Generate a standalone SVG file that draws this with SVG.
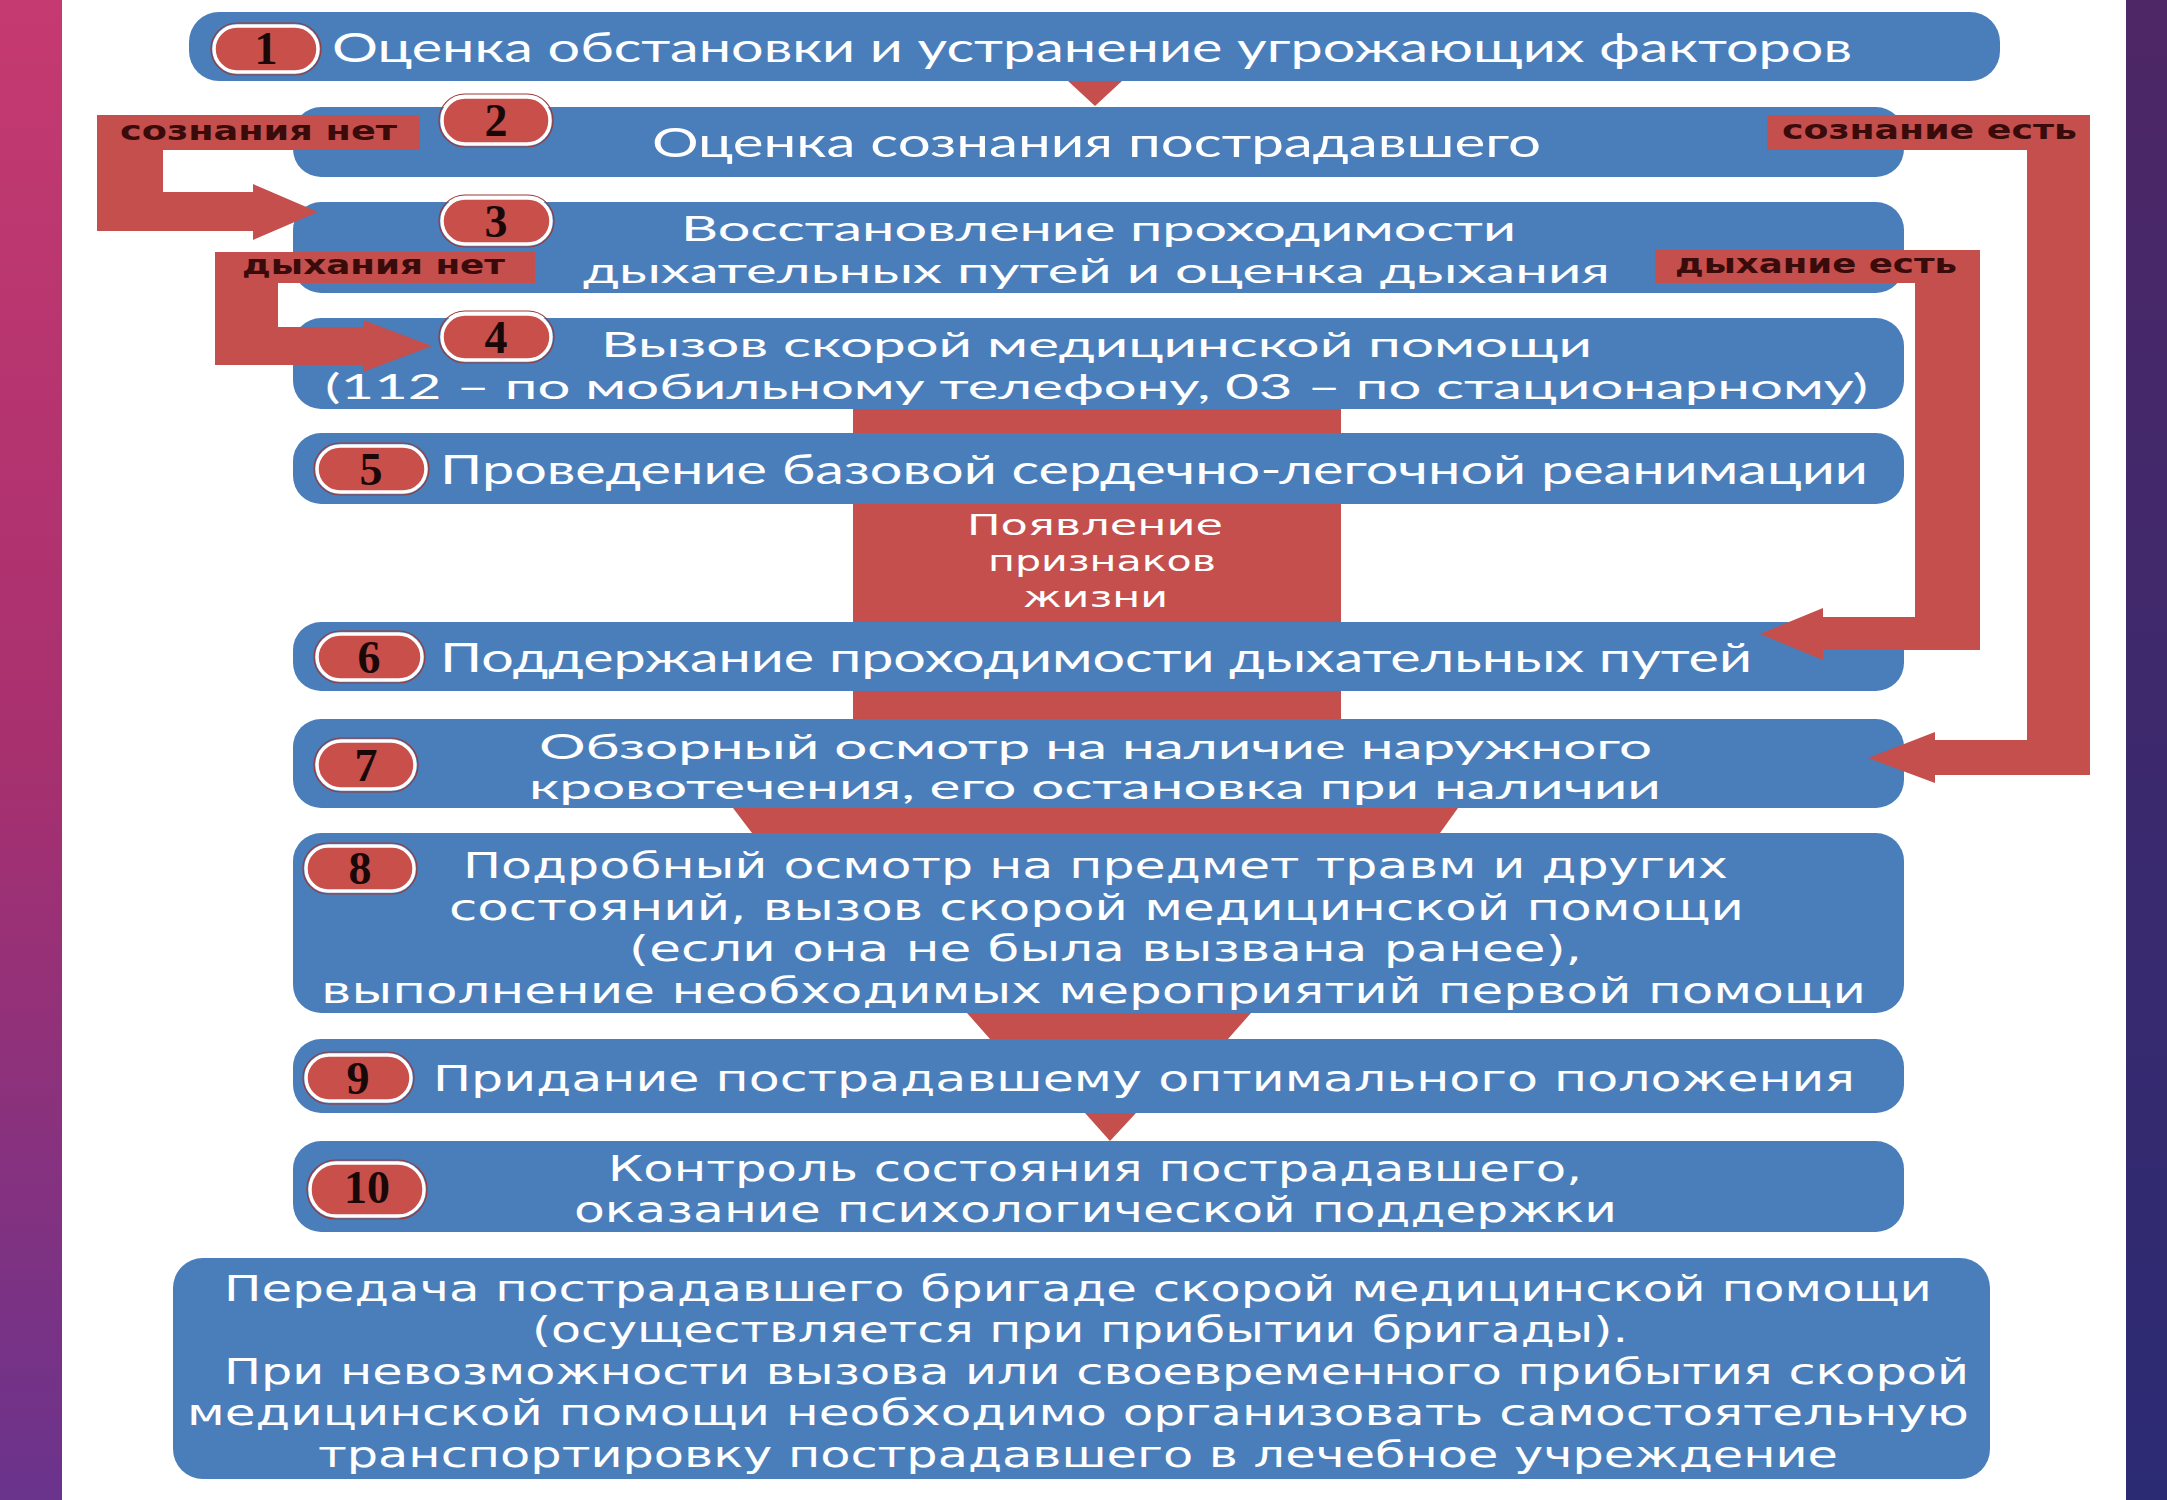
<svg xmlns="http://www.w3.org/2000/svg" width="2167" height="1500" viewBox="0 0 2167 1500">
<defs>
<linearGradient id="bgL" x1="0" y1="0" x2="0" y2="1">
<stop offset="0" stop-color="#c53a70"/>
<stop offset="0.5" stop-color="#a8306f"/>
<stop offset="1" stop-color="#6a338c"/>
</linearGradient>
<linearGradient id="bgR" x1="0" y1="0" x2="0" y2="1">
<stop offset="0" stop-color="#4e2766"/>
<stop offset="1" stop-color="#2b2b74"/>
</linearGradient>
<style>
.box{fill:#4a7ebb;}
.red{fill:#c44f4c;}
.badge{fill:#c94f4b;stroke:#ffffff;stroke-width:3.5;}
.badgeo{fill:none;stroke:#9a3a38;stroke-width:1.2;}
.num{font-family:"Liberation Serif",serif;font-weight:bold;font-size:46px;fill:#1a0808;text-anchor:middle;}
.t1{font-family:Lato,"Liberation Sans",sans-serif;font-size:40px;fill:#ffffff;}
.t1s{font-family:Lato,"Liberation Sans",sans-serif;font-size:35px;fill:#ffffff;}
.t2{font-family:"DejaVu Sans",sans-serif;font-size:35px;fill:#ffffff;}
.t3{font-family:"DejaVu Sans",sans-serif;font-size:28px;fill:#ffffff;}
.lbl{font-family:"DejaVu Sans",sans-serif;font-weight:bold;font-size:26px;fill:#3a0b0b;}
</style>
</defs>
<rect x="0" y="0" width="2167" height="1500" fill="#ffffff"/>
<rect x="0" y="0" width="62" height="1500" fill="url(#bgL)"/>
<rect x="2126" y="0" width="41" height="1500" fill="url(#bgR)"/>

<g id="node1">
<rect class="box" x="189" y="12" width="1811" height="69" rx="30"/>
<rect class="badge" x="214" y="26" width="104" height="46" rx="23"/>
<rect class="badgeo" x="211" y="23" width="110" height="52" rx="26"/>
<text class="num" x="266" y="64">1</text>
<text class="t1" x="332" y="62" textLength="1520" lengthAdjust="spacingAndGlyphs">Оценка обстановки и устранение угрожающих факторов</text>
</g>
<g id="node2">
<rect class="box" x="293" y="107" width="1611" height="70" rx="28"/>
<rect class="badge" x="442" y="97" width="108" height="47" rx="23"/>
<rect class="badgeo" x="439" y="94" width="114" height="53" rx="26"/>
<text class="num" x="496" y="136">2</text>
<text class="t1" x="652" y="157" textLength="889" lengthAdjust="spacingAndGlyphs">Оценка сознания пострадавшего</text>
</g>
<g id="node3">
<rect class="box" x="293" y="202" width="1611" height="91" rx="28"/>
<rect class="badge" x="442" y="198" width="109" height="46" rx="23"/>
<rect class="badgeo" x="439" y="195" width="115" height="52" rx="26"/>
<text class="num" x="496" y="237">3</text>
<text class="t1s" x="681" y="241" textLength="835" lengthAdjust="spacingAndGlyphs">Восстановление проходимости</text>
<text class="t1s" x="583" y="283" textLength="1027" lengthAdjust="spacingAndGlyphs">дыхательных путей и оценка дыхания</text>
</g>
<g id="node4">
<rect class="box" x="293" y="318" width="1611" height="91" rx="28"/>
<rect class="badge" x="442" y="314" width="109" height="46" rx="23"/>
<rect class="badgeo" x="439" y="311" width="115" height="52" rx="26"/>
<text class="num" x="496" y="353">4</text>
<text class="t1s" x="601" y="357" textLength="991" lengthAdjust="spacingAndGlyphs">Вызов скорой медицинской помощи</text>
<text class="t1s" x="325" y="399" textLength="1543" lengthAdjust="spacingAndGlyphs">(112 – по мобильному телефону, 03 – по стационарному)</text>
</g>
<g id="node5">
<rect class="box" x="293" y="433" width="1611" height="71" rx="28"/>
<rect class="badge" x="317" y="446" width="109" height="46" rx="23"/>
<rect class="badgeo" x="314" y="443" width="115" height="52" rx="26"/>
<text class="num" x="371" y="485">5</text>
<text class="t1" x="440" y="484" textLength="1428" lengthAdjust="spacingAndGlyphs">Проведение базовой сердечно-легочной реанимации</text>
</g>
<g id="node6">
<rect class="box" x="293" y="622" width="1611" height="69" rx="28"/>
<rect class="badge" x="317" y="634" width="105" height="46" rx="23"/>
<rect class="badgeo" x="314" y="631" width="111" height="52" rx="26"/>
<text class="num" x="369" y="673">6</text>
<text class="t1" x="440" y="672" textLength="1312" lengthAdjust="spacingAndGlyphs">Поддержание проходимости дыхательных путей</text>
</g>
<g id="node7">
<rect class="box" x="293" y="719" width="1611" height="89" rx="28"/>
<rect class="badge" x="317" y="741" width="98" height="48" rx="24"/>
<rect class="badgeo" x="314" y="738" width="104" height="54" rx="27"/>
<text class="num" x="366" y="781">7</text>
<text class="t1s" x="539" y="759" textLength="1113" lengthAdjust="spacingAndGlyphs">Обзорный осмотр на наличие наружного</text>
<text class="t1s" x="529" y="799" textLength="1132" lengthAdjust="spacingAndGlyphs">кровотечения, его остановка при наличии</text>
</g>
<g id="node8">
<rect class="box" x="293" y="833" width="1611" height="180" rx="28"/>
<rect class="badge" x="306" y="846" width="108" height="45" rx="22"/>
<rect class="badgeo" x="303" y="843" width="114" height="51" rx="25"/>
<text class="num" x="360" y="884">8</text>
<text class="t2" x="463" y="878" textLength="1265" lengthAdjust="spacingAndGlyphs">Подробный осмотр на предмет травм и других</text>
<text class="t2" x="449" y="920" textLength="1295" lengthAdjust="spacingAndGlyphs">состояний, вызов скорой медицинской помощи</text>
<text class="t2" x="629" y="961" textLength="953" lengthAdjust="spacingAndGlyphs">(если она не была вызвана ранее),</text>
<text class="t2" x="321" y="1003" textLength="1545" lengthAdjust="spacingAndGlyphs">выполнение необходимых мероприятий первой помощи</text>
</g>
<g id="node9">
<rect class="box" x="293" y="1039" width="1611" height="74" rx="28"/>
<rect class="badge" x="306" y="1055" width="105" height="46" rx="23"/>
<rect class="badgeo" x="303" y="1052" width="111" height="52" rx="26"/>
<text class="num" x="358" y="1094">9</text>
<text class="t2" x="433" y="1091" textLength="1422" lengthAdjust="spacingAndGlyphs">Придание пострадавшему оптимального положения</text>
</g>
<g id="node10">
<rect class="box" x="293" y="1141" width="1611" height="91" rx="28"/>
<rect class="badge" x="310" y="1163" width="114" height="53" rx="26"/>
<rect class="badgeo" x="307" y="1160" width="120" height="59" rx="29"/>
<text class="num" x="367" y="1203" font-size="40">10</text>
<text class="t2" x="608" y="1181" textLength="974" lengthAdjust="spacingAndGlyphs">Контроль состояния пострадавшего,</text>
<text class="t2" x="574" y="1222" textLength="1043" lengthAdjust="spacingAndGlyphs">оказание психологической поддержки</text>
</g>
<g id="node11">
<rect class="box" x="173" y="1258" width="1817" height="221" rx="30"/>
<text class="t2" x="224" y="1301" textLength="1708" lengthAdjust="spacingAndGlyphs">Передача пострадавшего бригаде скорой медицинской помощи</text>
<text class="t2" x="532" y="1342" textLength="1096" lengthAdjust="spacingAndGlyphs">(осуществляется при прибытии бригады).</text>
<text class="t2" x="224" y="1384" textLength="1745" lengthAdjust="spacingAndGlyphs">При невозможности вызова или своевременного прибытия скорой</text>
<text class="t2" x="187" y="1425" textLength="1782" lengthAdjust="spacingAndGlyphs">медицинской помощи необходимо организовать самостоятельную</text>
<text class="t2" x="318" y="1467" textLength="1520" lengthAdjust="spacingAndGlyphs">транспортировку пострадавшего в лечебное учреждение</text>
</g>

<g id="connectors">
<polygon class="red" points="1068,81 1122,81 1095,106"/>
<rect class="red" x="853" y="409" width="488" height="24"/>
<rect class="red" x="853" y="504" width="488" height="118"/>
<rect class="red" x="853" y="691" width="488" height="28"/>
<polygon class="red" points="733,808 1458,808 1440,833 752,833"/>
<polygon class="red" points="967,1013 1251,1013 1228,1039 990,1039"/>
<polygon class="red" points="1085,1113 1136,1113 1110,1141"/>
<text class="t3" x="967" y="535" textLength="256" lengthAdjust="spacingAndGlyphs">Появление</text>
<text class="t3" x="988" y="571" textLength="228" lengthAdjust="spacingAndGlyphs">признаков</text>
<text class="t3" x="1023" y="607" textLength="145" lengthAdjust="spacingAndGlyphs">жизни</text>
<path class="red" d="M97,115 H420 V150 H163 V192 H253 V184 L318,212 L253,240 V231 H97 Z"/>
<text class="lbl" x="120" y="140" textLength="277" lengthAdjust="spacingAndGlyphs">сознания нет</text>
<path class="red" d="M215,252 H535 V283 H278 V327 H363 V320 L432,346 L363,372 V365 H215 Z"/>
<text class="lbl" x="242" y="274" textLength="263" lengthAdjust="spacingAndGlyphs">дыхания нет</text>
<path class="red" d="M1767,115 H2090 V775 H1935 V783 L1868,758 L1935,732 V740 H2027 V150 H1767 Z"/>
<text class="lbl" x="1782" y="139" textLength="295" lengthAdjust="spacingAndGlyphs">сознание есть</text>
<path class="red" d="M1655,250 H1980 V650 H1823 V660 L1760,634 L1823,608 V617 H1915 V283 H1655 Z"/>
<text class="lbl" x="1675" y="273" textLength="282" lengthAdjust="spacingAndGlyphs">дыхание есть</text>
</g>
</svg>
